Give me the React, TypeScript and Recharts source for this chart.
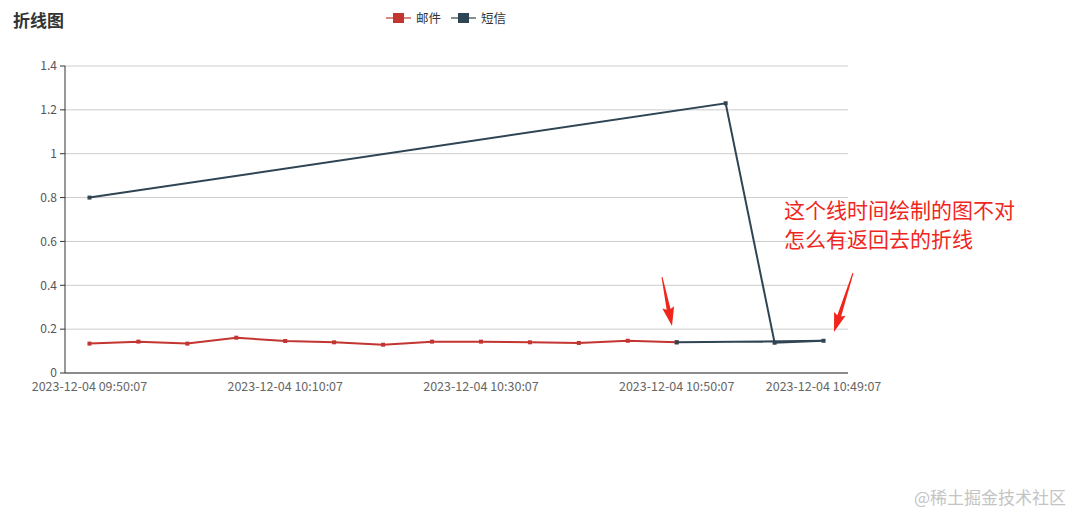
import { CartesianGrid, Line, LineChart, XAxis, YAxis } from 'recharts';

// category axis labels (13 and 14 are never labelled in the picture)
const categories = [
  '2023-12-04 09:50:07',
  '2023-12-04 09:55:07',
  '2023-12-04 10:00:07',
  '2023-12-04 10:05:07',
  '2023-12-04 10:10:07',
  '2023-12-04 10:15:07',
  '2023-12-04 10:20:07',
  '2023-12-04 10:25:07',
  '2023-12-04 10:30:07',
  '2023-12-04 10:35:07',
  '2023-12-04 10:40:07',
  '2023-12-04 10:45:07',
  '2023-12-04 10:50:07',
  '2023-12-04 10:43:07',
  '2023-12-04 10:46:07',
  '2023-12-04 10:49:07',
];

const mailTimes = categories.slice(0, 13);
const mailValues = [0.134, 0.143, 0.134, 0.161, 0.146, 0.14, 0.129, 0.143, 0.143, 0.14, 0.137, 0.147, 0.14];

// sms data comes in unsorted order, which is why the line goes back
const smsTimes = [
  '2023-12-04 09:50:07',
  '2023-12-04 10:43:07',
  '2023-12-04 10:46:07',
  '2023-12-04 10:49:07',
  '2023-12-04 10:50:07',
];
const smsValues = [0.8, 1.23, 0.138, 0.147, 0.14];

const xTicks = [0, 4, 8, 12, 15];
const yTicks = [0, 0.2, 0.4, 0.6, 0.8, 1, 1.2, 1.4];

const series = [
  { key: 'mail', label: '邮件', color: '#c23531' },
  { key: 'sms', label: '短信', color: '#2f4554' },
];

const mailData = mailTimes.map((t, i) => ({ x: categories.indexOf(t), y: mailValues[i] }));
const smsData = smsTimes.map((t, i) => ({ x: categories.indexOf(t), y: smsValues[i] }));

const FONT = "'Microsoft YaHei', 'Noto Sans CJK SC', sans-serif";

function squareDot(color: string) {
  return (props: any) => {
    const { cx, cy, index } = props;
    if (cx == null || cy == null) return <g key={index} />;
    return <rect key={index} x={cx - 2} y={cy - 2} width={4} height={4} fill={color} />;
  };
}

function LegendBox() {
  return (
    <div
      style={{
        position: 'absolute',
        left: 386,
        top: 8,
        display: 'flex',
        alignItems: 'center',
        fontSize: 12.5,
        color: '#333',
      }}
    >
      {series.map((s) => (
        <div key={s.key} style={{ display: 'flex', alignItems: 'center', marginRight: 10 }}>
          <svg width={25} height={14}>
            <line x1={0} y1={7} x2={25} y2={7} stroke={s.color} strokeOpacity={0.6} strokeWidth={2} />
            <rect x={7} y={2} width={11} height={10} fill={s.color} />
          </svg>
          <span style={{ marginLeft: 5 }}>{s.label}</span>
        </div>
      ))}
    </div>
  );
}

function arrowPoints(x1: number, y1: number, x2: number, y2: number): string {
  const len = Math.hypot(x2 - x1, y2 - y1);
  const dx = (x2 - x1) / len;
  const dy = (y2 - y1) / len;
  const nx = -dy;
  const ny = dx;
  const bx = x2 - dx * 17;
  const by = y2 - dy * 17;
  const pts = [
    [x1 + nx * 0.5, y1 + ny * 0.5],
    [bx + nx * 2, by + ny * 2],
    [bx + nx * 6 - dx * 2, by + ny * 6 - dy * 2],
    [x2, y2],
    [bx - nx * 6 - dx * 2, by - ny * 6 - dy * 2],
    [bx - nx * 2, by - ny * 2],
    [x1 - nx * 0.5, y1 - ny * 0.5],
  ];
  return pts.map((p) => p.join(',')).join(' ');
}

export default function App() {
  return (
    <div style={{ position: 'absolute', left: 0, top: 0, width: 1082, height: 512, background: '#fff', fontFamily: FONT }}>
      <div style={{ position: 'absolute', left: 13, top: 7, fontSize: 17, fontWeight: 'bold', color: '#333' }}>折线图</div>
      <LegendBox />
      <LineChart width={1082} height={512} margin={{ top: 66, right: 234, left: 0, bottom: 109 }}>
        <CartesianGrid vertical={false} stroke="#ccc" />
        <XAxis
          type="number"
          dataKey="x"
          domain={[-0.5, 15.5]}
          ticks={xTicks}
          interval={0}
          tickFormatter={(v) => categories[v] ?? ''}
          tickLine={false}
          tickSize={0}
          tickMargin={9}
          height={30}
          axisLine={{ stroke: '#333' }}
          tick={{ fontSize: 12.5, fill: '#666', fontFamily: FONT }}
          allowDataOverflow
        />
        <YAxis
          type="number"
          domain={[0, 1.4]}
          ticks={yTicks}
          width={65}
          tickSize={5}
          tickMargin={3}
          axisLine={{ stroke: '#333' }}
          tickLine={{ stroke: '#333' }}
          tick={{ fontSize: 12, fill: '#555', fontFamily: FONT }}
          tickFormatter={(v) => `${Math.round(v * 10) / 10}`}
        />
        <Line
          data={mailData}
          dataKey="y"
          name={series[0].label}
          type="linear"
          stroke={series[0].color}
          strokeWidth={2}
          dot={squareDot(series[0].color)}
          activeDot={false}
          isAnimationActive={false}
        />
        <Line
          data={smsData}
          dataKey="y"
          name={series[1].label}
          type="linear"
          stroke={series[1].color}
          strokeWidth={2}
          dot={squareDot(series[1].color)}
          activeDot={false}
          isAnimationActive={false}
        />
      </LineChart>
      <div style={{ position: 'absolute', left: 784, top: 195, fontSize: 21, lineHeight: '29px', color: '#f0261d' }}>
        这个线时间绘制的图不对
        <br />
        怎么有返回去的折线
      </div>
      <svg width={1082} height={512} style={{ position: 'absolute', left: 0, top: 0, pointerEvents: 'none' }}>
        <polygon points={arrowPoints(662, 277, 672, 326)} fill="#f0261d" />
        <polygon points={arrowPoints(853, 273, 834, 332)} fill="#f0261d" />
      </svg>
      <div style={{ position: 'absolute', left: 914, top: 484, fontSize: 17, color: '#c4c4c4' }}>@稀土掘金技术社区</div>
    </div>
  );
}
